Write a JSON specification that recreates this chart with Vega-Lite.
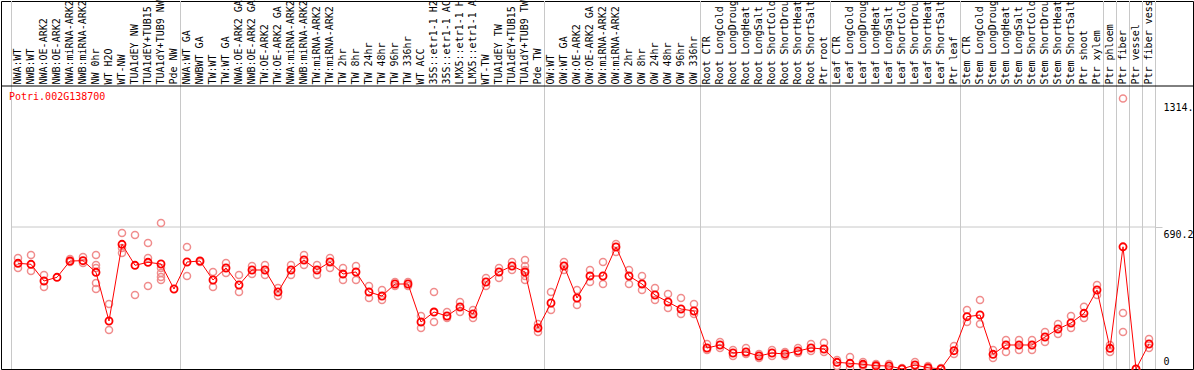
{
"$schema":"https://vega.github.io/schema/vega-lite/v6.json",
"width":1192,"height":368,
"autosize":{"type":"none"},
"padding":{"left":1,"top":1,"right":1,"bottom":1},
"background":"white",
"config":{"view":{"stroke":"black","strokeWidth":1},"font":"DejaVu Sans Mono"},
"datasets":{
"bounds":[{"c":"NWA:WT"},{"c":"NWA:WT GA"},{"c":"OW:WT"},{"c":"Root CTR"},{"c":"Leaf CTR"},{"c":"Stem CTR"},{"c":"Ptr phloem"},{"c":"Ptr fiber"},{"c":"Ptr vessel"},{"c":"Ptr fiber vessel"}],
"boundEnd":[{"c":"Ptr fiber vessel"}],
"label":[{"c":"NWA:WT","v":1322,"t":"Potri.002G138700"}],
"means":[
{"c":"NWA:WT","i":0,"v":513.8},{"c":"NWB:WT","i":1,"v":508.9},{"c":"NWA:OE-ARK2","i":2,"v":427.7},{"c":"NWB:OE-ARK2","i":3,"v":445.7},{"c":"NWA:miRNA-ARK2","i":4,"v":524.9},{"c":"NWB:miRNA-ARK2","i":5,"v":526.4},{"c":"NW 0hr","i":6,"v":470.0},{"c":"WT H2O","i":7,"v":233.3},{"c":"WT-NW","i":8,"v":606.1},{"c":"TUA1dEY NW","i":9,"v":504.0},{"c":"TUA1dEY+TUB15 NW","i":10,"v":518.6},{"c":"TUA1dY+TUB9 NW","i":11,"v":510.4},{"c":"Pde NW","i":12,"v":388.8},
{"c":"NWA:WT GA","i":13,"v":520.1},{"c":"NWBWT GA","i":14,"v":524.9},{"c":"TW:WT","i":15,"v":432.6},{"c":"TW:WT GA","i":16,"v":490.9},{"c":"NWA:OE-ARK2 GA","i":17,"v":408.3},{"c":"NWB:OE-ARK2 GA","i":18,"v":481.2},{"c":"TW:OE-ARK2","i":19,"v":481.2},{"c":"TW:OE-ARK2 GA","i":20,"v":374.3},{"c":"NWA:miRNA-ARK2 GA","i":21,"v":481.2},{"c":"NWB:miRNA-ARK2 GA","i":22,"v":529.8},{"c":"TW:miRNA-ARK2","i":23,"v":481.2},{"c":"TW:miRNA-ARK2 GA","i":24,"v":520.1},{"c":"TW 2hr","i":25,"v":461.7},{"c":"TW 8hr","i":26,"v":471.5},{"c":"TW 24hr","i":27,"v":374.3},{"c":"TW 48hr","i":28,"v":354.8},{"c":"TW 96hr","i":29,"v":413.1},{"c":"TW 336hr","i":30,"v":413.1},{"c":"WT ACC","i":31,"v":228.4},{"c":"35S::etr1-1 H2O","i":32,"v":277.0},{"c":"35S::etr1-1 ACC","i":33,"v":257.6},{"c":"LMX5::etr1-1 H2O","i":34,"v":301.4},{"c":"LMX5::etr1-1 ACC","i":35,"v":267.3},{"c":"WT-TW","i":36,"v":422.9},{"c":"TUA1dEY TW","i":37,"v":471.5},{"c":"TUA1dEY+TUB15 TW","i":38,"v":500.6},{"c":"TUA1dY+TUB9 TW","i":39,"v":471.5},{"c":"Pde TW","i":40,"v":199.3},
{"c":"OW:WT","i":41,"v":320.8},{"c":"OW:WT GA","i":42,"v":500.6},{"c":"OW:OE-ARK2","i":43,"v":345.1},{"c":"OW:OE-ARK2 GA","i":44,"v":452.0},{"c":"OW:miRNA-ARK2","i":45,"v":452.0},{"c":"OW:miRNA-ARK2 GA","i":46,"v":593.0},{"c":"OW 2hr","i":47,"v":452.0},{"c":"OW 8hr","i":48,"v":413.1},{"c":"OW 24hr","i":49,"v":359.7},{"c":"OW 48hr","i":50,"v":325.7},{"c":"OW 96hr","i":51,"v":291.6},{"c":"OW 336hr","i":52,"v":281.9},
{"c":"Root CTR","i":53,"v":102.1},{"c":"Root LongCold","i":54,"v":116.7},{"c":"Root LongDrought","i":55,"v":77.8},{"c":"Root LongHeat","i":56,"v":82.6},{"c":"Root LongSalt","i":57,"v":63.2},{"c":"Root ShortCold","i":58,"v":77.8},{"c":"Root ShortDrought","i":59,"v":72.9},{"c":"Root ShortHeat","i":60,"v":87.5},{"c":"Root ShortSalt","i":61,"v":102.1},{"c":"Ptr root","i":62,"v":97.2},
{"c":"Leaf CTR","i":63,"v":32.6},{"c":"Leaf LongCold","i":64,"v":27.7},{"c":"Leaf LongDrought","i":65,"v":22.8},{"c":"Leaf LongHeat","i":66,"v":16.0},{"c":"Leaf LongSalt","i":67,"v":14.6},{"c":"Leaf ShortCold","i":68,"v":0.5},{"c":"Leaf ShortDrought","i":69,"v":19.4},{"c":"Leaf ShortHeat","i":70,"v":6.3},{"c":"Leaf ShortSalt","i":71,"v":0.5},{"c":"Ptr leaf","i":72,"v":88.9},
{"c":"Stem CTR","i":73,"v":254.2},{"c":"Stem LongCold","i":74,"v":262.5},{"c":"Stem LongDrought","i":75,"v":71.4},{"c":"Stem LongHeat","i":76,"v":116.7},{"c":"Stem LongSalt","i":77,"v":116.7},{"c":"Stem ShortCold","i":78,"v":116.7},{"c":"Stem ShortDrought","i":79,"v":155.5},{"c":"Stem ShortHeat","i":80,"v":194.4},{"c":"Stem ShortSalt","i":81,"v":223.6},{"c":"Ptr shoot","i":82,"v":270.7},{"c":"Ptr xylem","i":83,"v":384.0},{"c":"Ptr phloem","i":84,"v":100.6},{"c":"Ptr fiber","i":85,"v":594.0},{"c":"Ptr vessel","i":86,"v":0},{"c":"Ptr fiber vessel","i":87,"v":121.5}
],
"reps":[
{"c":"NWA:WT","v":539.5},{"c":"NWA:WT","v":490.9},{"c":"NWB:WT","v":554.1},{"c":"NWB:WT","v":476.3},{"c":"NWA:OE-ARK2","v":456.9},{"c":"NWA:OE-ARK2","v":398.6},{"c":"NWA:miRNA-ARK2","v":534.7},{"c":"NWA:miRNA-ARK2","v":520.1},{"c":"NWB:miRNA-ARK2","v":544.4},{"c":"NWB:miRNA-ARK2","v":515.2},
{"c":"NW 0hr","v":554.1},{"c":"NW 0hr","v":505.5},{"c":"NW 0hr","v":490.9},{"c":"NW 0hr","v":418.0},{"c":"NW 0hr","v":388.8},{"c":"WT H2O","v":315.9},{"c":"WT H2O","v":189.6},{"c":"WT-NW","v":661.0},{"c":"WT-NW","v":588.1},{"c":"WT-NW","v":563.8},{"c":"TUA1dEY NW","v":651.3},{"c":"TUA1dEY NW","v":359.7},{"c":"TUA1dEY+TUB15 NW","v":612.4},{"c":"TUA1dEY+TUB15 NW","v":539.5},{"c":"TUA1dEY+TUB15 NW","v":403.4},
{"c":"TUA1dY+TUB9 NW","v":709.6},{"c":"TUA1dY+TUB9 NW","v":490.9},{"c":"TUA1dY+TUB9 NW","v":466.6},{"c":"TUA1dY+TUB9 NW","v":447.2},{"c":"TUA1dY+TUB9 NW","v":432.6},
{"c":"NWA:WT GA","v":593.0},{"c":"NWA:WT GA","v":452.0},{"c":"NWBWT GA","v":520.1},{"c":"TW:WT","v":471.5},{"c":"TW:WT","v":398.6},{"c":"TW:WT GA","v":515.2},{"c":"TW:WT GA","v":466.6},{"c":"NWA:OE-ARK2 GA","v":456.9},{"c":"NWA:OE-ARK2 GA","v":374.3},{"c":"NWB:OE-ARK2 GA","v":500.6},{"c":"NWB:OE-ARK2 GA","v":461.7},{"c":"TW:OE-ARK2","v":505.5},{"c":"TW:OE-ARK2","v":456.9},{"c":"TW:OE-ARK2 GA","v":393.7},{"c":"TW:OE-ARK2 GA","v":354.8},{"c":"NWA:miRNA-ARK2 GA","v":505.5},{"c":"NWA:miRNA-ARK2 GA","v":456.9},{"c":"NWB:miRNA-ARK2 GA","v":554.1},{"c":"NWB:miRNA-ARK2 GA","v":505.5},{"c":"TW:miRNA-ARK2","v":505.5},{"c":"TW:miRNA-ARK2","v":456.9},{"c":"TW:miRNA-ARK2 GA","v":539.5},{"c":"TW:miRNA-ARK2 GA","v":490.9},{"c":"TW 2hr","v":490.9},{"c":"TW 2hr","v":432.6},{"c":"TW 8hr","v":500.6},{"c":"TW 8hr","v":432.6},{"c":"TW 24hr","v":403.4},{"c":"TW 24hr","v":345.1},{"c":"TW 48hr","v":384.0},{"c":"TW 48hr","v":335.4},{"c":"TW 96hr","v":422.9},{"c":"TW 96hr","v":403.4},{"c":"TW 336hr","v":422.9},{"c":"TW 336hr","v":403.4},{"c":"WT ACC","v":257.6},{"c":"WT ACC","v":199.3},{"c":"35S::etr1-1 H2O","v":374.3},{"c":"35S::etr1-1 H2O","v":228.4},{"c":"35S::etr1-1 ACC","v":277.0},{"c":"35S::etr1-1 ACC","v":247.9},{"c":"LMX5::etr1-1 H2O","v":325.7},{"c":"LMX5::etr1-1 H2O","v":277.0},{"c":"LMX5::etr1-1 ACC","v":286.8},{"c":"LMX5::etr1-1 ACC","v":247.9},{"c":"WT-TW","v":442.3},{"c":"WT-TW","v":403.4},{"c":"TUA1dEY TW","v":490.9},{"c":"TUA1dEY TW","v":442.3},{"c":"TUA1dEY+TUB15 TW","v":520.1},{"c":"TUA1dEY+TUB15 TW","v":481.2},{"c":"TUA1dY+TUB9 TW","v":529.8},{"c":"TUA1dY+TUB9 TW","v":500.6},{"c":"TUA1dY+TUB9 TW","v":481.2},{"c":"TUA1dY+TUB9 TW","v":452.0},{"c":"TUA1dY+TUB9 TW","v":432.6},{"c":"Pde TW","v":218.7},{"c":"Pde TW","v":179.8},
{"c":"OW:WT","v":374.3},{"c":"OW:WT","v":286.8},{"c":"OW:WT GA","v":520.1},{"c":"OW:WT GA","v":481.2},{"c":"OW:OE-ARK2","v":384.0},{"c":"OW:OE-ARK2","v":311.1},{"c":"OW:OE-ARK2 GA","v":481.2},{"c":"OW:OE-ARK2 GA","v":422.9},{"c":"OW:miRNA-ARK2","v":520.1},{"c":"OW:miRNA-ARK2","v":413.1},{"c":"OW:miRNA-ARK2 GA","v":607.6},{"c":"OW:miRNA-ARK2 GA","v":568.7},{"c":"OW 2hr","v":481.2},{"c":"OW 2hr","v":413.1},{"c":"OW 8hr","v":452.0},{"c":"OW 8hr","v":384.0},{"c":"OW 24hr","v":393.7},{"c":"OW 24hr","v":335.4},{"c":"OW 48hr","v":364.5},{"c":"OW 48hr","v":296.5},{"c":"OW 96hr","v":345.1},{"c":"OW 96hr","v":267.3},{"c":"OW 336hr","v":315.9},{"c":"OW 336hr","v":267.3},
{"c":"Root CTR","v":121.5},{"c":"Root CTR","v":92.3},{"c":"Root LongCold","v":131.2},{"c":"Root LongCold","v":102.1},{"c":"Root LongDrought","v":92.3},{"c":"Root LongDrought","v":63.2},{"c":"Root LongHeat","v":102.1},{"c":"Root LongHeat","v":72.9},{"c":"Root LongSalt","v":72.9},{"c":"Root LongSalt","v":53.5},{"c":"Root ShortCold","v":92.3},{"c":"Root ShortCold","v":63.2},{"c":"Root ShortDrought","v":82.6},{"c":"Root ShortDrought","v":63.2},{"c":"Root ShortHeat","v":102.1},{"c":"Root ShortHeat","v":77.8},{"c":"Root ShortSalt","v":121.5},{"c":"Root ShortSalt","v":87.5},{"c":"Ptr root","v":127.8},{"c":"Ptr root","v":82.6},
{"c":"Leaf CTR","v":43.7},{"c":"Leaf CTR","v":14.6},{"c":"Leaf LongCold","v":58.3},{"c":"Leaf LongCold","v":4.9},{"c":"Leaf LongDrought","v":34.0},{"c":"Leaf LongDrought","v":14.6},{"c":"Leaf LongHeat","v":24.3},{"c":"Leaf LongHeat","v":9.7},{"c":"Leaf LongSalt","v":24.3},{"c":"Leaf LongSalt","v":4.9},{"c":"Leaf ShortCold","v":4.9},{"c":"Leaf ShortCold","v":0},{"c":"Leaf ShortDrought","v":34.0},{"c":"Leaf ShortDrought","v":9.7},{"c":"Leaf ShortHeat","v":14.6},{"c":"Leaf ShortHeat","v":0},{"c":"Leaf ShortSalt","v":4.9},{"c":"Leaf ShortSalt","v":0},{"c":"Ptr leaf","v":111.8},{"c":"Ptr leaf","v":72.9},
{"c":"Stem CTR","v":286.8},{"c":"Stem CTR","v":228.4},{"c":"Stem LongCold","v":335.4},{"c":"Stem LongCold","v":218.7},{"c":"Stem LongDrought","v":92.3},{"c":"Stem LongDrought","v":53.5},{"c":"Stem LongHeat","v":141.0},{"c":"Stem LongHeat","v":82.6},{"c":"Stem LongSalt","v":141.0},{"c":"Stem LongSalt","v":92.3},{"c":"Stem ShortCold","v":141.0},{"c":"Stem ShortCold","v":92.3},{"c":"Stem ShortDrought","v":179.8},{"c":"Stem ShortDrought","v":131.2},{"c":"Stem ShortHeat","v":218.7},{"c":"Stem ShortHeat","v":170.1},{"c":"Stem ShortSalt","v":257.6},{"c":"Stem ShortSalt","v":199.3},{"c":"Ptr shoot","v":302.8},{"c":"Ptr shoot","v":247.9},{"c":"Ptr xylem","v":408.3},{"c":"Ptr xylem","v":359.7},{"c":"Ptr phloem","v":116.7},{"c":"Ptr phloem","v":82.6},{"c":"Ptr fiber","v":1314.6},{"c":"Ptr fiber","v":272.2},{"c":"Ptr fiber","v":179.8},{"c":"Ptr vessel","v":0},{"c":"Ptr fiber vessel","v":145.8},{"c":"Ptr fiber vessel","v":102.1}
]
},
"layer":[
{"data":{"name":"bounds"},"mark":{"type":"rule","color":"#c8c8c8","strokeWidth":1},"encoding":{"x":{"field":"c","type":"nominal","bandPosition":0}}},
{"data":{"name":"boundEnd"},"mark":{"type":"rule","color":"#c8c8c8","strokeWidth":1},"encoding":{"x":{"field":"c","type":"nominal","bandPosition":1}}},
{"data":{"name":"label"},"mark":{"type":"rule","color":"#c8c8c8","strokeWidth":1,"xOffset":-6.5,"x2Offset":6.5},"encoding":{"x":{"datum":"NWA:WT","type":"nominal"},"x2":{"datum":"Ptr fiber vessel"},"y":{"datum":690.2,"type":"quantitative"}}},
{"data":{"name":"label"},"mark":{"type":"rule","color":"black","strokeWidth":1},"encoding":{"y":{"datum":1375.5,"type":"quantitative"}}},
{"data":{"name":"reps"},"mark":{"type":"point","shape":"circle","filled":false,"size":50,"color":"#f08c8c","strokeWidth":1.5,"opacity":1},"encoding":{"x":{"field":"c","type":"nominal"},"y":{"field":"v","type":"quantitative"}}},
{"data":{"name":"means"},"mark":{"type":"line","color":"#ff0000","strokeWidth":1},"encoding":{"x":{"field":"c","type":"nominal"},"y":{"field":"v","type":"quantitative"},"order":{"field":"i","type":"quantitative"}}},
{"data":{"name":"means"},"mark":{"type":"point","shape":"circle","filled":false,"size":50,"color":"#ff0000","strokeWidth":1.8,"opacity":1},"encoding":{
"x":{"field":"c","type":"nominal",
"scale":{"type":"band","domain":["NWA:WT","NWB:WT","NWA:OE-ARK2","NWB:OE-ARK2","NWA:miRNA-ARK2","NWB:miRNA-ARK2","NW 0hr","WT H2O","WT-NW","TUA1dEY NW","TUA1dEY+TUB15 NW","TUA1dY+TUB9 NW","Pde NW","NWA:WT GA","NWBWT GA","TW:WT","TW:WT GA","NWA:OE-ARK2 GA","NWB:OE-ARK2 GA","TW:OE-ARK2","TW:OE-ARK2 GA","NWA:miRNA-ARK2 GA","NWB:miRNA-ARK2 GA","TW:miRNA-ARK2","TW:miRNA-ARK2 GA","TW 2hr","TW 8hr","TW 24hr","TW 48hr","TW 96hr","TW 336hr","WT ACC","35S::etr1-1 H2O","35S::etr1-1 ACC","LMX5::etr1-1 H2O","LMX5::etr1-1 ACC","WT-TW","TUA1dEY TW","TUA1dEY+TUB15 TW","TUA1dY+TUB9 TW","Pde TW","OW:WT","OW:WT GA","OW:OE-ARK2","OW:OE-ARK2 GA","OW:miRNA-ARK2","OW:miRNA-ARK2 GA","OW 2hr","OW 8hr","OW 24hr","OW 48hr","OW 96hr","OW 336hr","Root CTR","Root LongCold","Root LongDrought","Root LongHeat","Root LongSalt","Root ShortCold","Root ShortDrought","Root ShortHeat","Root ShortSalt","Ptr root","Leaf CTR","Leaf LongCold","Leaf LongDrought","Leaf LongHeat","Leaf LongSalt","Leaf ShortCold","Leaf ShortDrought","Leaf ShortHeat","Leaf ShortSalt","Ptr leaf","Stem CTR","Stem LongCold","Stem LongDrought","Stem LongHeat","Stem LongSalt","Stem ShortCold","Stem ShortDrought","Stem ShortHeat","Stem ShortSalt","Ptr shoot","Ptr xylem","Ptr phloem","Ptr fiber","Ptr vessel","Ptr fiber vessel"],"paddingInner":0,"paddingOuter":0,"range":[10.5,1154.5]},
"axis":{"orient":"top","offset":-85,"title":null,"ticks":false,"tickSize":0,"domain":false,"grid":false,"labelAngle":-90,"labelAlign":"left","labelBaseline":"middle","labelPadding":2,"labelFont":"DejaVu Sans Mono","labelFontSize":10,"labelColor":"black","labelOverlap":false,"labelBound":false,"labelLimit":0}},
"y":{"field":"v","type":"quantitative","scale":{"domain":[0,1788.7],"nice":false,"zero":false},
"axis":{"orient":"right","offset":-38,"title":null,"values":[0,690.2,1314.6],"domain":false,"grid":false,"ticks":true,"tickSize":7,"tickColor":{"condition":{"test":"datum.value == 690.2","value":"#c8c8c8"},"value":"transparent"},"labelFont":"DejaVu Sans Mono","labelFontSize":10,"labelColor":"black","labelPadding":1,"labelAlign":"left","labelBaseline":{"condition":{"test":"datum.value == 0","value":"bottom"},"value":"top"},"labelOffset":{"condition":[{"test":"datum.value == 0","value":-3},{"test":"datum.value > 1000","value":4}],"value":2},"labelFlush":false,"labelOverlap":false,"labelBound":false,"labelExpr":"datum.value == 0 ? '0' : format(datum.value, '.1f')"}}}},
{"data":{"name":"label"},"mark":{"type":"text","color":"#ff0000","font":"DejaVu Sans Mono","fontSize":10,"align":"left","baseline":"middle","dx":-9},"encoding":{"x":{"field":"c","type":"nominal"},"y":{"field":"v","type":"quantitative"},"text":{"field":"t"}}}
]
}
